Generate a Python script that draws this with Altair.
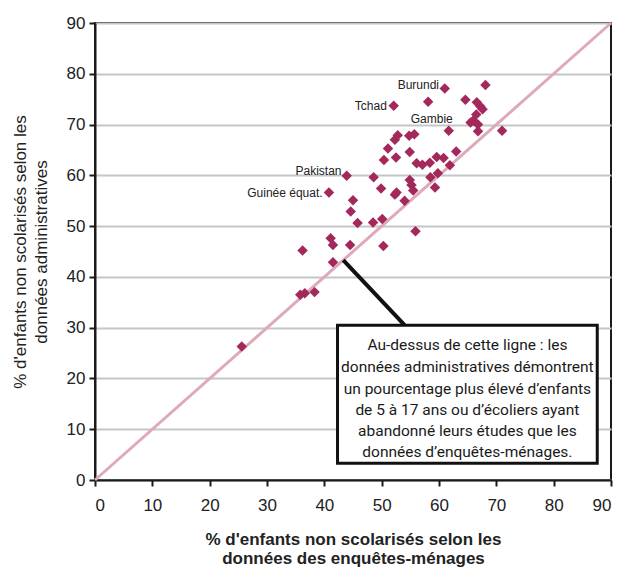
import altair as alt
import pandas as pd

# survey (x) vs administrative (y) out-of-school percentages
xs = [25.6, 35.8, 36.6, 38.3, 36.2, 41.1, 41.5, 44.5, 50.3, 41.5,
      55.9, 45.8, 48.5, 50.1, 44.6, 45.0, 40.8, 43.9, 48.6, 49.9,
      52.3, 52.6, 54.0, 54.9, 55.2, 55.5, 59.3, 58.5, 59.8, 61.9,
      56.1, 57.1, 58.4, 59.6, 60.8, 63.0, 54.9, 50.4, 52.5, 51.1,
      52.3, 52.8, 54.8, 55.7, 61.7, 66.8, 66.8, 71.0, 65.5, 66.0,
      66.5, 67.6, 67.2, 66.6, 64.6, 58.1, 52.1, 61.0, 68.1]
ys = [26.3, 36.5, 36.8, 37.0, 45.2, 47.6, 46.3, 46.3, 46.1, 42.9,
      49.0, 50.6, 50.7, 51.4, 52.9, 55.1, 56.6, 59.9, 59.6, 57.4,
      56.2, 56.6, 55.0, 59.1, 58.1, 57.0, 57.6, 59.6, 60.4, 62.0,
      62.4, 62.1, 62.5, 63.6, 63.4, 64.7, 64.6, 63.0, 63.5, 65.3,
      67.0, 67.9, 67.8, 68.1, 68.8, 68.7, 70.0, 68.8, 70.4, 70.8,
      72.0, 73.0, 73.6, 74.4, 74.9, 74.5, 73.7, 77.1, 77.8]

label_names = ["Burundi", "Tchad", "Gambie", "Pakistan", "Guinée équat."]
label_x = [60.0, 50.9, 62.4, 43.0, 39.7]
label_y = [77.8, 73.6, 71.0, 60.8, 56.6]

axis_ticks = [0, 10, 20, 30, 40, 50, 60, 70, 80, 90]

box_lines = ["Au-dessus de cette ligne : les",
             "données administratives démontrent",
             "un pourcentage plus élevé d’enfants",
             "de 5 à 17 ans ou d’écoliers ayant",
             "abandonné leurs études que les",
             "données d’enquêtes-ménages."]
box_line_y = [26.5, 22.3, 18.0, 13.8, 9.6, 5.5]
box_x = [42.3, 87.6]
box_y = [3.3, 30.5]
leader_x = [43.3, 54.0]
leader_y = [43.3, 30.5]

pts = pd.DataFrame({"x": xs, "y": ys})
labs = pd.DataFrame({"name": label_names, "x": label_x, "y": label_y})
diag = pd.DataFrame({"x": [0], "y": [0], "x2": [90], "y2": [90]})
box = pd.DataFrame({"x": [box_x[0]], "x2": [box_x[1]], "y": [box_y[0]], "y2": [box_y[1]]})
leader = pd.DataFrame({"x": [leader_x[0]], "x2": [leader_x[1]], "y": [leader_y[0]], "y2": [leader_y[1]]})
btext = pd.DataFrame({"t": box_lines, "y": box_line_y, "x": [(box_x[0] + box_x[1]) / 2] * len(box_lines)})

FONT = "Liberation Sans"
xscale = alt.Scale(domain=[0, 90], nice=False)
yscale = alt.Scale(domain=[0, 90], nice=False)

xaxis = alt.Axis(values=axis_ticks, grid=False, title=["% d'enfants non scolarisés selon les",
                                                      "données des enquêtes-ménages"],
                 titleFontWeight=600, titlePadding=18, labelPadding=11, titleLineHeight=19)
yaxis = alt.Axis(values=axis_ticks, grid=True, title=["% d'enfants non scolarisés selon les",
                                                     "données administratives"],
                 titleFontWeight="normal", titlePadding=16, labelPadding=4, titleLineHeight=21)

base_x = alt.X("x:Q", scale=xscale, axis=xaxis)
base_y = alt.Y("y:Q", scale=yscale, axis=yaxis)

diag_layer = alt.Chart(diag).mark_rule(color="#dea9b8", strokeWidth=3).encode(
    x=base_x, y=base_y, x2="x2:Q", y2="y2:Q")

points = alt.Chart(pts).mark_point(shape="diamond", filled=True, size=110,
                                   color="#a3295c", opacity=1).encode(
    x=alt.X("x:Q", scale=xscale), y=alt.Y("y:Q", scale=yscale))

leader_layer = alt.Chart(leader).mark_rule(color="#111111", strokeWidth=4).encode(
    x="x:Q", y="y:Q", x2="x2:Q", y2="y2:Q")

box_layer = alt.Chart(box).mark_rect(fill="white", stroke="#111111", strokeWidth=3).encode(
    x="x:Q", x2="x2:Q", y="y:Q", y2="y2:Q")

box_text = alt.Chart(btext).mark_text(font="Roboto", fontSize=15.5,
                                      color="#1a1a1a", align="center", baseline="middle").encode(
    x="x:Q", y="y:Q", text="t:N")

label_layer = alt.Chart(labs).mark_text(font=FONT, fontSize=12, color="#222222",
                                        align="right", baseline="middle").encode(
    x="x:Q", y="y:Q", text="name:N")

chart = alt.layer(diag_layer, points, leader_layer, box_layer, box_text, label_layer).properties(
    width=516, height=457,
    autosize=alt.AutoSizeParams(type="none"),
    padding={"left": 87, "top": 15, "right": 3, "bottom": 96},
).configure_view(stroke="#1a1a1a", strokeWidth=2).configure_axis(
    labelFont=FONT, titleFont=FONT, labelFontSize=17, titleFontSize=17,
    labelColor="#222222", titleColor="#222222", domainColor="#1a1a1a", domainWidth=2,
    tickColor="#1a1a1a", tickWidth=2, tickSize=6, gridColor="#c3c6ca", gridWidth=2
)

chart.save("out.html", embed_options={"renderer": "svg", "actions": False})
